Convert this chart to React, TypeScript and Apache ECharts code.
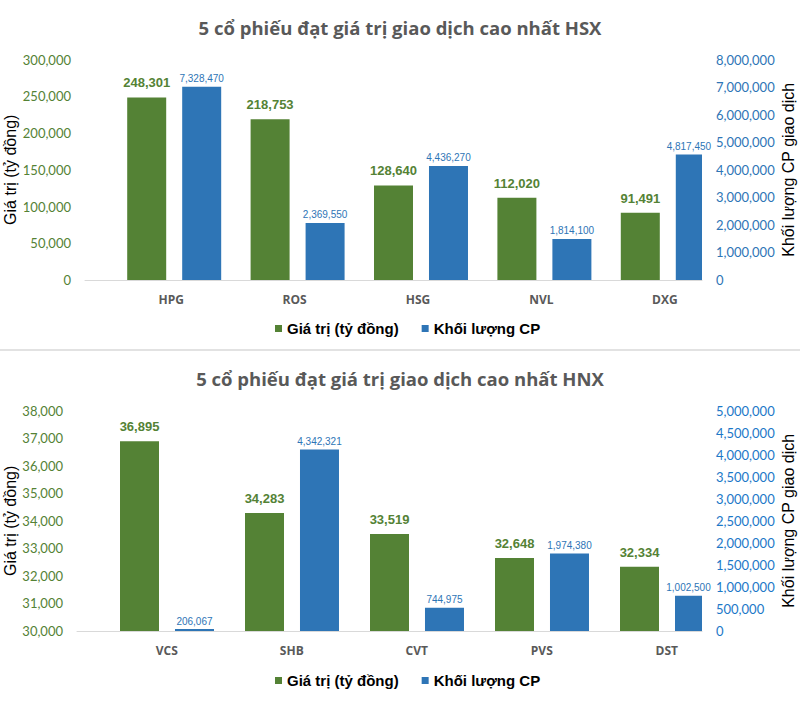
import React, { useEffect, useRef } from 'react';
import * as echarts from 'echarts';

// ---- HSX data ----
const hsxTitle = '5 cổ phiếu đạt giá trị giao dịch cao nhất HSX';
const hsxCategories = ['HPG', 'ROS', 'HSG', 'NVL', 'DXG'];
const hsxValue = [248301, 218753, 128640, 112020, 91491];
// bar heights as drawn in the picture (right axis)
const hsxVolumeBars = [7010000, 2070000, 4140000, 1490000, 4550000];
// printed data labels
const hsxVolumeLabels = [7328470, 2369550, 4436270, 1814100, 4817450];
const hsxLeftTicks = [0, 300000, 50000];
const hsxRightTicks = [0, 8000000, 1000000];

// ---- HNX data ----
const hnxTitle = '5 cổ phiếu đạt giá trị giao dịch cao nhất HNX';
const hnxCategories = ['VCS', 'SHB', 'CVT', 'PVS', 'DST'];
const hnxValue = [36895, 34283, 33519, 32648, 32334];
const hnxVolumeBars = [45000, 4120000, 530000, 1760000, 800000];
const hnxVolumeLabels = [206067, 4342321, 744975, 1974380, 1002500];
const hnxLeftTicks = [30000, 38000, 1000];
const hnxRightTicks = [0, 5000000, 500000];

const seriesNames = ['Giá trị (tỷ đồng)', 'Khối lượng CP'];
const leftAxisName = 'Giá trị (tỷ đồng)';
const rightAxisName = 'Khối lượng CP giao dịch';

const GREEN = '#548235';
const BLUE = '#2E75B6';
const BLUE2 = '#1C78C8';
const GRAY = '#595959';
const ARIAL = "'Liberation Sans', Arial, sans-serif";
const CAL = "Lato, 'Open Sans', sans-serif";
const OPEN = "'Open Sans', Lato, sans-serif";

const fmt = (v: number) => v.toLocaleString('en-US');

function build(
  idx: number,
  grid: any,
  cats: string[],
  vals: number[],
  volBars: number[],
  volLabels: number[],
  lt: number[],
  rt: number[],
  labelShift: number,
  leftGap: number,
  rightColor: string
) {
  const xAxis = {
    type: 'category',
    gridIndex: idx,
    data: cats,
    axisLine: { show: true, lineStyle: { color: '#D9D9D9', width: 1 } },
    axisTick: { show: false },
    axisLabel: {
      color: GRAY,
      fontFamily: OPEN,
      fontWeight: 'bold',
      fontSize: 12,
      margin: 13,
      padding: [0, 0, 0, labelShift * 2],
    },
  };
  const yLeft = {
    type: 'value',
    gridIndex: idx,
    min: lt[0],
    max: lt[1],
    interval: lt[2],
    splitLine: { show: false },
    axisLine: { show: false },
    axisTick: { show: false },
    axisLabel: { color: GREEN, fontFamily: CAL, fontSize: 13, margin: 14, formatter: fmt },
    name: leftAxisName,
    nameLocation: 'middle',
    nameRotate: 90,
    nameGap: leftGap,
    nameMoveOverlap: false,
    nameTextStyle: { color: '#000', fontFamily: ARIAL, fontSize: 16 },
  };
  const yRight = {
    type: 'value',
    gridIndex: idx,
    position: 'right',
    min: rt[0],
    max: rt[1],
    interval: rt[2],
    splitLine: { show: false },
    axisLine: { show: false },
    axisTick: { show: false },
    axisLabel: { color: rightColor, fontFamily: CAL, fontSize: 13, margin: 14, formatter: fmt },
    name: rightAxisName,
    nameLocation: 'middle',
    nameRotate: 90,
    nameGap: 78,
    nameMoveOverlap: false,
    nameTextStyle: { color: '#000', fontFamily: ARIAL, fontSize: 16 },
  };
  const common = { type: 'bar', barWidth: 39, barGap: '41%', clip: true, xAxisIndex: idx };
  const series = [
    { ...common, name: '_spacer' + idx, yAxisIndex: idx * 2, data: cats.map(() => null), silent: true },
    {
      ...common,
      name: seriesNames[0],
      yAxisIndex: idx * 2,
      data: vals,
      itemStyle: { color: GREEN },
      label: {
        show: true,
        position: 'top',
        distance: 8,
        color: GREEN,
        fontFamily: ARIAL,
        fontWeight: 'bold',
        fontSize: 13,
        formatter: (p: any) => fmt(p.value),
      },
    },
    {
      ...common,
      name: seriesNames[1],
      yAxisIndex: idx * 2 + 1,
      data: volBars,
      itemStyle: { color: BLUE },
      label: {
        show: true,
        position: 'top',
        distance: 3,
        color: BLUE,
        fontFamily: ARIAL,
        fontSize: 10,
        formatter: (p: any) => fmt(volLabels[p.dataIndex]),
      },
    },
  ];
  return { grid: { ...grid, outerBoundsMode: 'none', containLabel: false }, xAxis, yAxes: [yLeft, yRight], series };
}

export default function App() {
  const ref = useRef<HTMLDivElement>(null);
  useEffect(() => {
    if (!ref.current) return;
    const chart = echarts.init(ref.current, undefined, { renderer: 'svg' });
    const a = build(0, { left: 85, right: 98, top: 59.5, height: 220.5 }, hsxCategories, hsxValue, hsxVolumeBars, hsxVolumeLabels, hsxLeftTicks, hsxRightTicks, 24.5, 67, BLUE);
    const b = build(1, { left: 77, right: 98, top: 410.7, height: 220.3 }, hnxCategories, hnxValue, hnxVolumeBars, hnxVolumeLabels, hnxLeftTicks, hnxRightTicks, 27.3, 59, BLUE2);
    const legendBase = {
      data: seriesNames,
      icon: 'rect',
      itemWidth: 7,
      itemHeight: 7,
      itemGap: 23,
      padding: 0,
      left: 275,
      textStyle: { color: '#000', fontFamily: ARIAL, fontWeight: 'bold', fontSize: 15 },
    };
    const titleStyle = { color: GRAY, fontFamily: OPEN, fontWeight: 'bold', fontSize: 18.5, lineHeight: 20 };
    chart.setOption({
      animation: false,
      backgroundColor: '#fff',
      title: [
        { text: hsxTitle, left: 'center', top: 17, padding: 0, textStyle: titleStyle },
        { text: hnxTitle, left: 'center', top: 368, padding: 0, textStyle: titleStyle },
      ],
      legend: [
        { ...legendBase, top: 321 },
        { ...legendBase, top: 673 },
      ],
      grid: [a.grid, b.grid],
      xAxis: [a.xAxis, b.xAxis],
      yAxis: [...a.yAxes, ...b.yAxes],
      series: [...a.series, ...b.series],
      graphic: [
        { type: 'line', shape: { x1: 0, y1: 350, x2: 800, y2: 350 }, style: { stroke: '#D9D9D9', lineWidth: 1.5 } },
      ],
    });
    return () => chart.dispose();
  }, []);
  return <div ref={ref} style={{ position: 'fixed', left: 0, top: 0, width: 800, height: 722 }} />;
}
